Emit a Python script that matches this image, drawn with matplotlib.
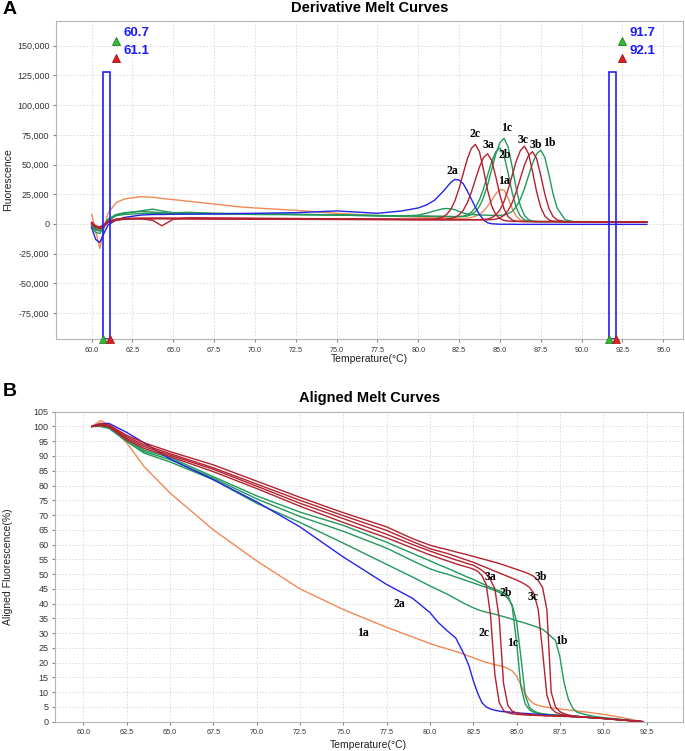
import matplotlib
matplotlib.use("Agg")
import matplotlib.pyplot as plt
from matplotlib.patches import Rectangle
from matplotlib.ticker import FuncFormatter, MultipleLocator

plt.rcParams["font.family"] = ["Liberation Sans", "DejaVu Sans"]

# --- Panel A: derivative melt curves (fluorescence, in thousands) ------------------------------ #
DERIV_T = [60.0, 60.25, 60.5, 60.75, 61.0, 61.5, 62.0, 63.0, 63.75, 64.3,
           65.0, 66.0, 67.5, 69.0, 70.0, 72.5, 75.0, 77.5, 79.0, 80.0,
           80.5, 81.0, 81.5, 81.75, 82.0, 82.25, 82.5, 82.75, 83.0, 83.25,
           83.5, 83.75, 84.0, 84.25, 84.5, 84.75, 85.0, 85.25, 85.5, 85.75,
           86.0, 86.25, 86.5, 86.75, 87.0, 87.25, 87.5, 87.75, 88.0, 88.25,
           88.5, 89.0, 89.5, 90.0, 91.0, 92.0, 93.0, 94.0]

DERIV_1A = [8.0, -6.0, -20.5, -4.0, 9.0, 18.0, 21.0, 23.0, 22.5, 21.5,
            20.5, 19.0, 16.8, 14.5, 13.5, 11.5, 9.0, 7.0, 6.2, 5.8,
            5.5, 5.2, 5.0, 4.9, 4.8, 4.7, 4.6, 4.6, 5.0, 5.5,
            6.5, 8.0, 11.0, 15.0, 20.0, 25.5, 29.0, 28.5, 22.0, 13.0,
            6.5, 3.5, 2.6, 2.3, 2.2, 2.1, 2.1, 2.0, 2.0, 2.0,
            2.0, 2.0, 1.9, 1.9, 1.8, 1.8, 1.7, 1.6]
DERIV_2A = [-3.0, -13.0, -15.5, -8.0, -1.0, 3.5, 5.5, 7.5, 8.0, 8.0,
            8.2, 8.3, 8.5, 8.8, 9.0, 9.5, 11.0, 9.0, 11.0, 13.5,
            16.0, 20.0, 27.0, 31.0, 35.0, 37.5, 37.0, 34.0, 28.0, 21.0,
            14.0, 8.0, 3.5, 1.0, 0.2, 0.0, -0.2, -0.2, -0.2, -0.2,
            -0.3, -0.3, -0.3, -0.3, -0.3, -0.3, -0.3, -0.3, -0.3, -0.3,
            -0.3, -0.3, -0.3, -0.3, -0.3, -0.3, -0.3, -0.3]
DERIV_2C = [1.0, -2.0, -3.5, -1.5, 1.5, 3.5, 4.5, 5.0, 5.0, 5.0,
            5.0, 5.0, 4.8, 4.7, 4.6, 4.5, 4.3, 4.2, 4.1, 4.1,
            4.1, 4.2, 5.8, 8.1, 12.5, 19.7, 29.9, 42.2, 54.5, 63.6,
            67.0, 60.7, 45.3, 28.3, 15.2, 7.8, 4.6, 3.0, 2.5, 2.3,
            2.2, 2.2, 2.1, 2.1, 2.1, 2.0, 2.0, 2.0, 2.0, 2.0,
            2.0, 1.9, 1.9, 1.8, 1.8, 1.7, 1.7, 1.6]
DERIV_3A = [0.5, -2.5, -3.0, -1.0, 2.0, 4.0, 4.8, 4.5, 3.0, -1.5,
            4.0, 5.2, 5.0, 4.9, 4.8, 4.6, 4.4, 4.2, 4.0, 4.0,
            4.0, 4.0, 4.1, 4.2, 4.6, 5.6, 7.6, 11.4, 17.7, 26.6,
            37.4, 48.0, 56.0, 59.0, 53.4, 39.7, 24.5, 12.9, 6.3, 3.4,
            2.4, 2.1, 2.0, 2.0, 2.0, 2.0, 2.0, 2.0, 2.0, 2.0,
            2.0, 1.9, 1.9, 1.8, 1.8, 1.7, 1.7, 1.6]
DERIV_3C = [1.5, -1.5, -2.5, -0.5, 2.5, 4.0, 4.5, 4.5, 4.6, 4.6,
            4.5, 4.4, 4.3, 4.2, 4.2, 4.0, 3.9, 3.8, 3.7, 3.6,
            3.6, 3.6, 3.6, 3.6, 3.6, 3.6, 3.6, 3.6, 3.6, 3.6,
            3.6, 3.7, 3.8, 4.2, 5.3, 7.5, 11.8, 18.8, 28.8, 40.8,
            52.8, 61.7, 65.5, 59.3, 44.0, 27.1, 14.1, 6.8, 3.5, 2.4,
            2.1, 2.0, 1.9, 1.9, 1.8, 1.7, 1.7, 1.6]
DERIV_3B = [0.0, -3.0, -4.0, -2.0, 1.0, 3.0, 4.0, 4.3, 4.4, 4.4,
            4.4, 4.3, 4.2, 4.1, 4.0, 3.9, 3.8, 3.7, 3.6, 3.5,
            3.5, 3.5, 3.5, 3.5, 3.5, 3.5, 3.5, 3.5, 3.5, 3.5,
            3.5, 3.5, 3.5, 3.5, 3.7, 4.1, 5.1, 7.3, 11.2, 17.8,
            27.0, 38.3, 49.4, 57.7, 60.8, 55.0, 40.9, 25.2, 13.2, 6.4,
            3.4, 2.0, 1.9, 1.9, 1.8, 1.7, 1.7, 1.6]
DERIV_1C = [-1.0, -5.0, -6.0, -2.0, 3.0, 7.0, 8.0, 8.8, 9.0, 8.8,
            8.5, 8.5, 8.4, 8.2, 8.0, 7.8, 7.5, 7.0, 6.8, 6.6,
            6.5, 6.4, 6.3, 6.3, 6.2, 6.2, 6.2, 6.3, 6.7, 7.9,
            10.3, 14.9, 22.4, 33.1, 46.0, 58.9, 68.4, 72.0, 65.1, 48.3,
            29.7, 15.4, 7.3, 3.7, 2.4, 2.1, 2.0, 2.0, 2.0, 2.0,
            2.0, 1.9, 1.9, 1.8, 1.8, 1.7, 1.7, 1.6]
DERIV_2B = [1.0, -4.0, -5.5, -1.0, 4.0, 8.0, 9.5, 10.5, 10.0, 9.5,
            9.0, 9.2, 8.8, 8.6, 8.5, 8.2, 7.8, 7.2, 6.9, 6.7,
            6.6, 6.5, 6.4, 6.3, 6.3, 6.2, 6.2, 6.6, 7.7, 9.8,
            13.8, 20.4, 29.8, 41.2, 52.5, 60.9, 64.0, 57.9, 43.0, 26.5,
            13.8, 6.7, 3.5, 2.4, 2.1, 2.0, 2.0, 2.0, 2.0, 2.0,
            2.0, 1.9, 1.9, 1.8, 1.8, 1.7, 1.7, 1.6]
DERIV_1B = [-2.0, -7.0, -8.0, -3.0, 2.5, 7.5, 9.0, 11.0, 12.5, 11.0,
            9.5, 9.8, 9.0, 8.8, 8.5, 8.0, 7.5, 6.8, 6.5, 7.5,
            9.0, 11.0, 12.8, 13.0, 12.8, 12.0, 10.5, 9.3, 8.5, 8.0,
            7.8, 7.6, 7.5, 7.4, 7.3, 7.3, 7.3, 7.6, 8.6, 10.6,
            14.4, 20.7, 29.6, 40.4, 51.0, 59.0, 62.0, 56.1, 41.7, 25.7,
            13.5, 3.5, 2.0, 2.0, 1.9, 1.8, 1.7, 1.6]

# --- Panel B: aligned melt curves (%) ------------------------------------------------------------ #
ALIGN_T = [60.5, 61.0, 61.5, 62.5, 63.5, 65.0, 67.5, 70.0, 72.5, 75.0,
           77.5, 79.0, 80.0, 80.5, 81.0, 81.5, 82.0, 82.25, 82.5, 82.75,
           83.0, 83.25, 83.5, 83.75, 84.0, 84.25, 84.5, 84.75, 85.0, 85.25,
           85.5, 85.75, 86.0, 86.25, 86.5, 86.75, 87.0, 87.25, 87.5, 87.75,
           88.0, 88.25, 88.5, 89.0, 89.5, 90.0, 91.0, 92.3]

ALIGN_1A = [100.0, 102.0, 100.5, 94.5, 86.5, 77.5, 65.0, 54.5, 45.0, 38.0,
            32.0, 28.7, 26.5, 25.5, 24.7, 23.8, 22.8, 22.2, 21.7, 21.1,
            20.6, 20.1, 19.7, 19.3, 19.0, 18.6, 18.0, 17.2, 15.5, 12.5,
            9.5, 7.3, 6.1, 5.5, 5.2, 4.9, 4.7, 4.5, 4.3, 4.1,
            4.0, 3.8, 3.6, 3.3, 2.9, 2.5, 1.5, 0.0]
ALIGN_2A = [100.0, 101.0, 101.0, 98.0, 94.5, 89.0, 82.0, 74.5, 66.0, 55.8,
            46.5, 41.8, 37.0, 33.5, 30.8, 28.3, 22.5, 19.0, 14.0, 9.8,
            6.5, 5.0, 4.3, 3.9, 3.6, 3.4, 3.3, 3.2, 3.0, 2.9,
            2.8, 2.7, 2.6, 2.5, 2.4, 2.3, 2.2, 2.1, 2.0, 1.9,
            1.8, 1.7, 1.6, 1.5, 1.3, 1.1, 0.7, 0.0]
ALIGN_2C = [100.0, 100.3, 99.8, 95.5, 92.6, 89.8, 84.7, 79.0, 73.0, 67.5,
            62.3, 58.8, 56.5, 55.5, 54.5, 53.5, 52.6, 52.2, 51.7, 51.0,
            49.5, 46.5, 36.0, 16.0, 6.5, 3.8, 3.0, 2.7, 2.5, 2.4,
            2.3, 2.2, 2.2, 2.1, 2.1, 2.0, 2.0, 1.9, 1.9, 1.8,
            1.8, 1.7, 1.7, 1.5, 1.3, 1.1, 0.6, 0.0]
ALIGN_3A = [100.0, 100.5, 100.0, 96.0, 93.2, 90.3, 85.5, 79.8, 74.0, 68.8,
            63.5, 60.0, 57.8, 56.8, 55.8, 54.8, 53.9, 53.4, 53.0, 52.2,
            51.3, 50.0, 48.0, 45.0, 35.0, 13.0, 5.5, 3.6, 3.0, 2.7,
            2.5, 2.4, 2.3, 2.2, 2.1, 2.0, 2.0, 1.9, 1.9, 1.8,
            1.8, 1.7, 1.7, 1.5, 1.3, 1.1, 0.6, 0.0]
ALIGN_3C = [100.0, 100.8, 100.2, 96.5, 93.8, 90.8, 86.0, 80.5, 75.0, 69.8,
            64.8, 61.0, 58.6, 57.8, 57.0, 56.0, 55.0, 54.5, 54.0, 53.4,
            52.8, 52.2, 51.6, 51.0, 50.4, 49.8, 49.2, 48.6, 48.0, 47.3,
            46.5, 45.5, 43.5, 38.0, 24.0, 9.0, 4.5, 3.2, 2.6, 2.3,
            2.1, 1.9, 1.8, 1.5, 1.3, 1.1, 0.6, 0.0]
ALIGN_3B = [100.0, 101.0, 100.5, 97.0, 94.5, 91.5, 87.0, 81.5, 76.0, 70.8,
            66.0, 62.0, 59.8, 59.0, 58.3, 57.5, 56.8, 56.4, 56.0, 55.6,
            55.2, 54.8, 54.4, 54.0, 53.6, 53.1, 52.6, 52.1, 51.6, 51.1,
            50.6, 50.0, 49.2, 47.8, 45.5, 38.0, 10.0, 5.0, 3.4, 2.7,
            2.3, 2.0, 1.8, 1.5, 1.3, 1.1, 0.6, 0.0]
ALIGN_2B = [100.0, 100.5, 100.0, 95.5, 92.0, 89.5, 83.0, 76.5, 71.0, 66.5,
            60.8, 57.0, 54.5, 53.2, 52.0, 50.7, 49.4, 48.8, 48.2, 47.5,
            46.8, 46.2, 45.5, 44.9, 44.3, 43.7, 42.8, 39.0, 27.0, 12.0,
            6.0, 4.0, 3.2, 2.8, 2.6, 2.4, 2.3, 2.2, 2.1, 2.0,
            1.9, 1.85, 1.8, 1.6, 1.4, 1.2, 0.7, 0.0]
ALIGN_1C = [100.0, 100.2, 99.5, 95.0, 91.5, 88.8, 82.5, 75.5, 69.5, 64.5,
            58.8, 54.5, 51.8, 50.8, 50.0, 49.0, 48.0, 47.5, 47.0, 46.5,
            46.0, 45.5, 45.0, 44.4, 43.8, 43.0, 41.8, 39.5, 34.0, 22.0,
            9.0, 4.8, 3.6, 3.0, 2.7, 2.5, 2.4, 2.3, 2.2, 2.1,
            2.0, 1.9, 1.8, 1.6, 1.4, 1.2, 0.7, 0.0]
ALIGN_1B = [100.0, 100.0, 99.3, 95.0, 91.0, 88.0, 82.0, 74.0, 67.5, 60.5,
            53.3, 49.0, 46.0, 44.6, 43.2, 41.6, 40.0, 39.3, 38.6, 38.0,
            37.5, 37.1, 36.8, 36.4, 36.0, 35.6, 35.2, 34.7, 34.2, 33.8,
            33.4, 32.9, 32.4, 31.9, 31.3, 30.2, 28.8, 27.5, 22.0, 13.0,
            7.5, 4.5, 3.2, 2.4, 1.8, 1.4, 0.8, 0.0]

# Melt-region cursors (°C) shown as the blue boxes in panel A
CURSOR_LOW = (60.7, 61.1)
CURSOR_HIGH = (91.7, 92.1)

# Curve-label anchors: (name, temperature, value)
LABELS_A = [("2a", 82.1, 45.0), ("2c", 83.45, 75.5), ("3a", 84.3, 66.5), ("1c", 85.4, 80.5),
            ("2b", 85.3, 58.0), ("1a", 85.25, 36.0), ("3c", 86.4, 70.5), ("3b", 87.2, 66.5),
            ("1b", 88.05, 68.0)]
LABELS_B = [("3a", 83.5, 49.0), ("3b", 86.4, 49.0), ("2b", 84.4, 43.5), ("3c", 85.95, 42.3),
            ("2a", 78.25, 40.0), ("1a", 76.15, 30.0), ("2c", 83.1, 30.0), ("1c", 84.75, 26.6),
            ("1b", 87.6, 27.3)]

ORANGE, BLUE, RED, GREEN = "#ef8a55", "#2323e6", "#b32230", "#22985a"
COLORS = {"1a": ORANGE, "2a": BLUE, "1b": GREEN, "1c": GREEN, "2b": GREEN,
          "2c": RED, "3a": RED, "3b": RED, "3c": RED}

DERIV = {"1a": DERIV_1A, "1b": DERIV_1B, "1c": DERIV_1C, "2b": DERIV_2B, "2a": DERIV_2A,
         "2c": DERIV_2C, "3a": DERIV_3A, "3c": DERIV_3C, "3b": DERIV_3B}
ALIGN = {"1a": ALIGN_1A, "1b": ALIGN_1B, "1c": ALIGN_1C, "2b": ALIGN_2B, "2a": ALIGN_2A,
         "2c": ALIGN_2C, "3a": ALIGN_3A, "3c": ALIGN_3C, "3b": ALIGN_3B}


def style_axes(ax):
    for sp in ax.spines.values():
        sp.set_color("#b5b5b5")
        sp.set_linewidth(0.8)
    ax.grid(True, color="#d8d8d8", ls=(0, (2, 2)), lw=0.6)
    ax.set_axisbelow(True)
    ax.xaxis.set_major_locator(MultipleLocator(2.5))
    ax.xaxis.set_major_formatter(FuncFormatter(lambda v, _: f"{v:.1f}"))
    ax.tick_params(axis="x", labelsize=5.2, length=2.5, color="#888888", labelcolor="#333333", pad=3)
    ax.tick_params(axis="y", labelsize=6.5, length=2.5, color="#888888", labelcolor="#333333", pad=2)


fig = plt.figure(figsize=(6.85, 7.51), dpi=100)

# --- Panel A -------------------------------------------------------------------------------------- #
ax = fig.add_axes([0.0813, 0.5482, 0.9162, 0.4242])
style_axes(ax)
for name, vals in DERIV.items():
    ax.plot(DERIV_T, [v * 1000 for v in vals], color=COLORS[name], lw=1.0)
ymin, ymax = -97000, 171000
for lo, hi in (CURSOR_LOW, CURSOR_HIGH):
    ax.add_patch(Rectangle((lo, ymin), hi - lo, 128000 - ymin, fill=False, ec="#1f1fff", lw=1.2, zorder=5))
    ax.plot(hi + 0.4, 154000, marker="^", ms=6, mfc="#33bb33", mec="#1d7a1d", mew=0.6, zorder=6)
    ax.plot(hi + 0.4, 139500, marker="^", ms=6, mfc="#e02020", mec="#991111", mew=0.6, zorder=6)
    ax.text(hi + 0.85, 160500, f"{lo:.1f}", color="#1a1aff", fontsize=9.5, fontweight="bold",
            ha="left", va="center")
    ax.text(hi + 0.85, 145500, f"{hi:.1f}", color="#1a1aff", fontsize=9.5, fontweight="bold",
            ha="left", va="center")
    ax.plot(lo, ymin, marker="^", ms=6, mfc="#33bb33", mec="#1d7a1d", mew=0.5, clip_on=False, zorder=7)
    ax.plot(hi, ymin, marker="^", ms=6, mfc="#e02020", mec="#991111", mew=0.5, clip_on=False, zorder=7)
for name, t, v in LABELS_A:
    ax.text(t, v * 1000, name, family=["Liberation Serif", "DejaVu Serif"], fontweight="bold",
            fontsize=8.5, ha="center", va="center")
ax.set_xlim(57.8, 96.23)
ax.set_ylim(ymin, ymax)
ax.yaxis.set_major_locator(MultipleLocator(25000))
ax.yaxis.set_major_formatter(FuncFormatter(lambda v, _: f"{v:,.0f}"))
ax.set_xlabel("Temperature(°C)", fontsize=7.5, color="#222222")
ax.xaxis.set_label_coords(0.5, -0.045)
ax.set_ylabel("Fluorescence", fontsize=7.5, color="#222222")
ax.yaxis.set_label_coords(-0.068, 0.5)

# --- Panel B -------------------------------------------------------------------------------------- #
bx = fig.add_axes([0.0803, 0.0390, 0.9164, 0.4128])
style_axes(bx)
for name, vals in ALIGN.items():
    bx.plot(ALIGN_T, vals, color=COLORS[name], lw=1.0)
for name, t, v in LABELS_B:
    bx.text(t, v, name, family=["Liberation Serif", "DejaVu Serif"], fontweight="bold",
            fontsize=8.5, ha="center", va="center")
bx.set_xlim(58.37, 94.59)
bx.set_ylim(0, 105)
bx.yaxis.set_major_locator(MultipleLocator(5))
bx.set_xlabel("Temperature(°C)", fontsize=7.5, color="#222222")
bx.xaxis.set_label_coords(0.5, -0.058)
bx.set_ylabel("Aligned Fluorescence(%)", fontsize=7.5, color="#222222")
bx.yaxis.set_label_coords(-0.067, 0.5)

fig.text(0.5394, 0.9893, "Derivative Melt Curves", fontsize=10.5, fontweight="bold", ha="center", va="center")
fig.text(0.5394, 0.4700, "Aligned Melt Curves", fontsize=10.5, fontweight="bold", ha="center", va="center")
fig.text(0.004, 0.987, "A", fontsize=14, fontweight="bold", ha="left", va="center")
fig.text(0.004, 0.479, "B", fontsize=14, fontweight="bold", ha="left", va="center")

fig.savefig("out.png", dpi=100)
